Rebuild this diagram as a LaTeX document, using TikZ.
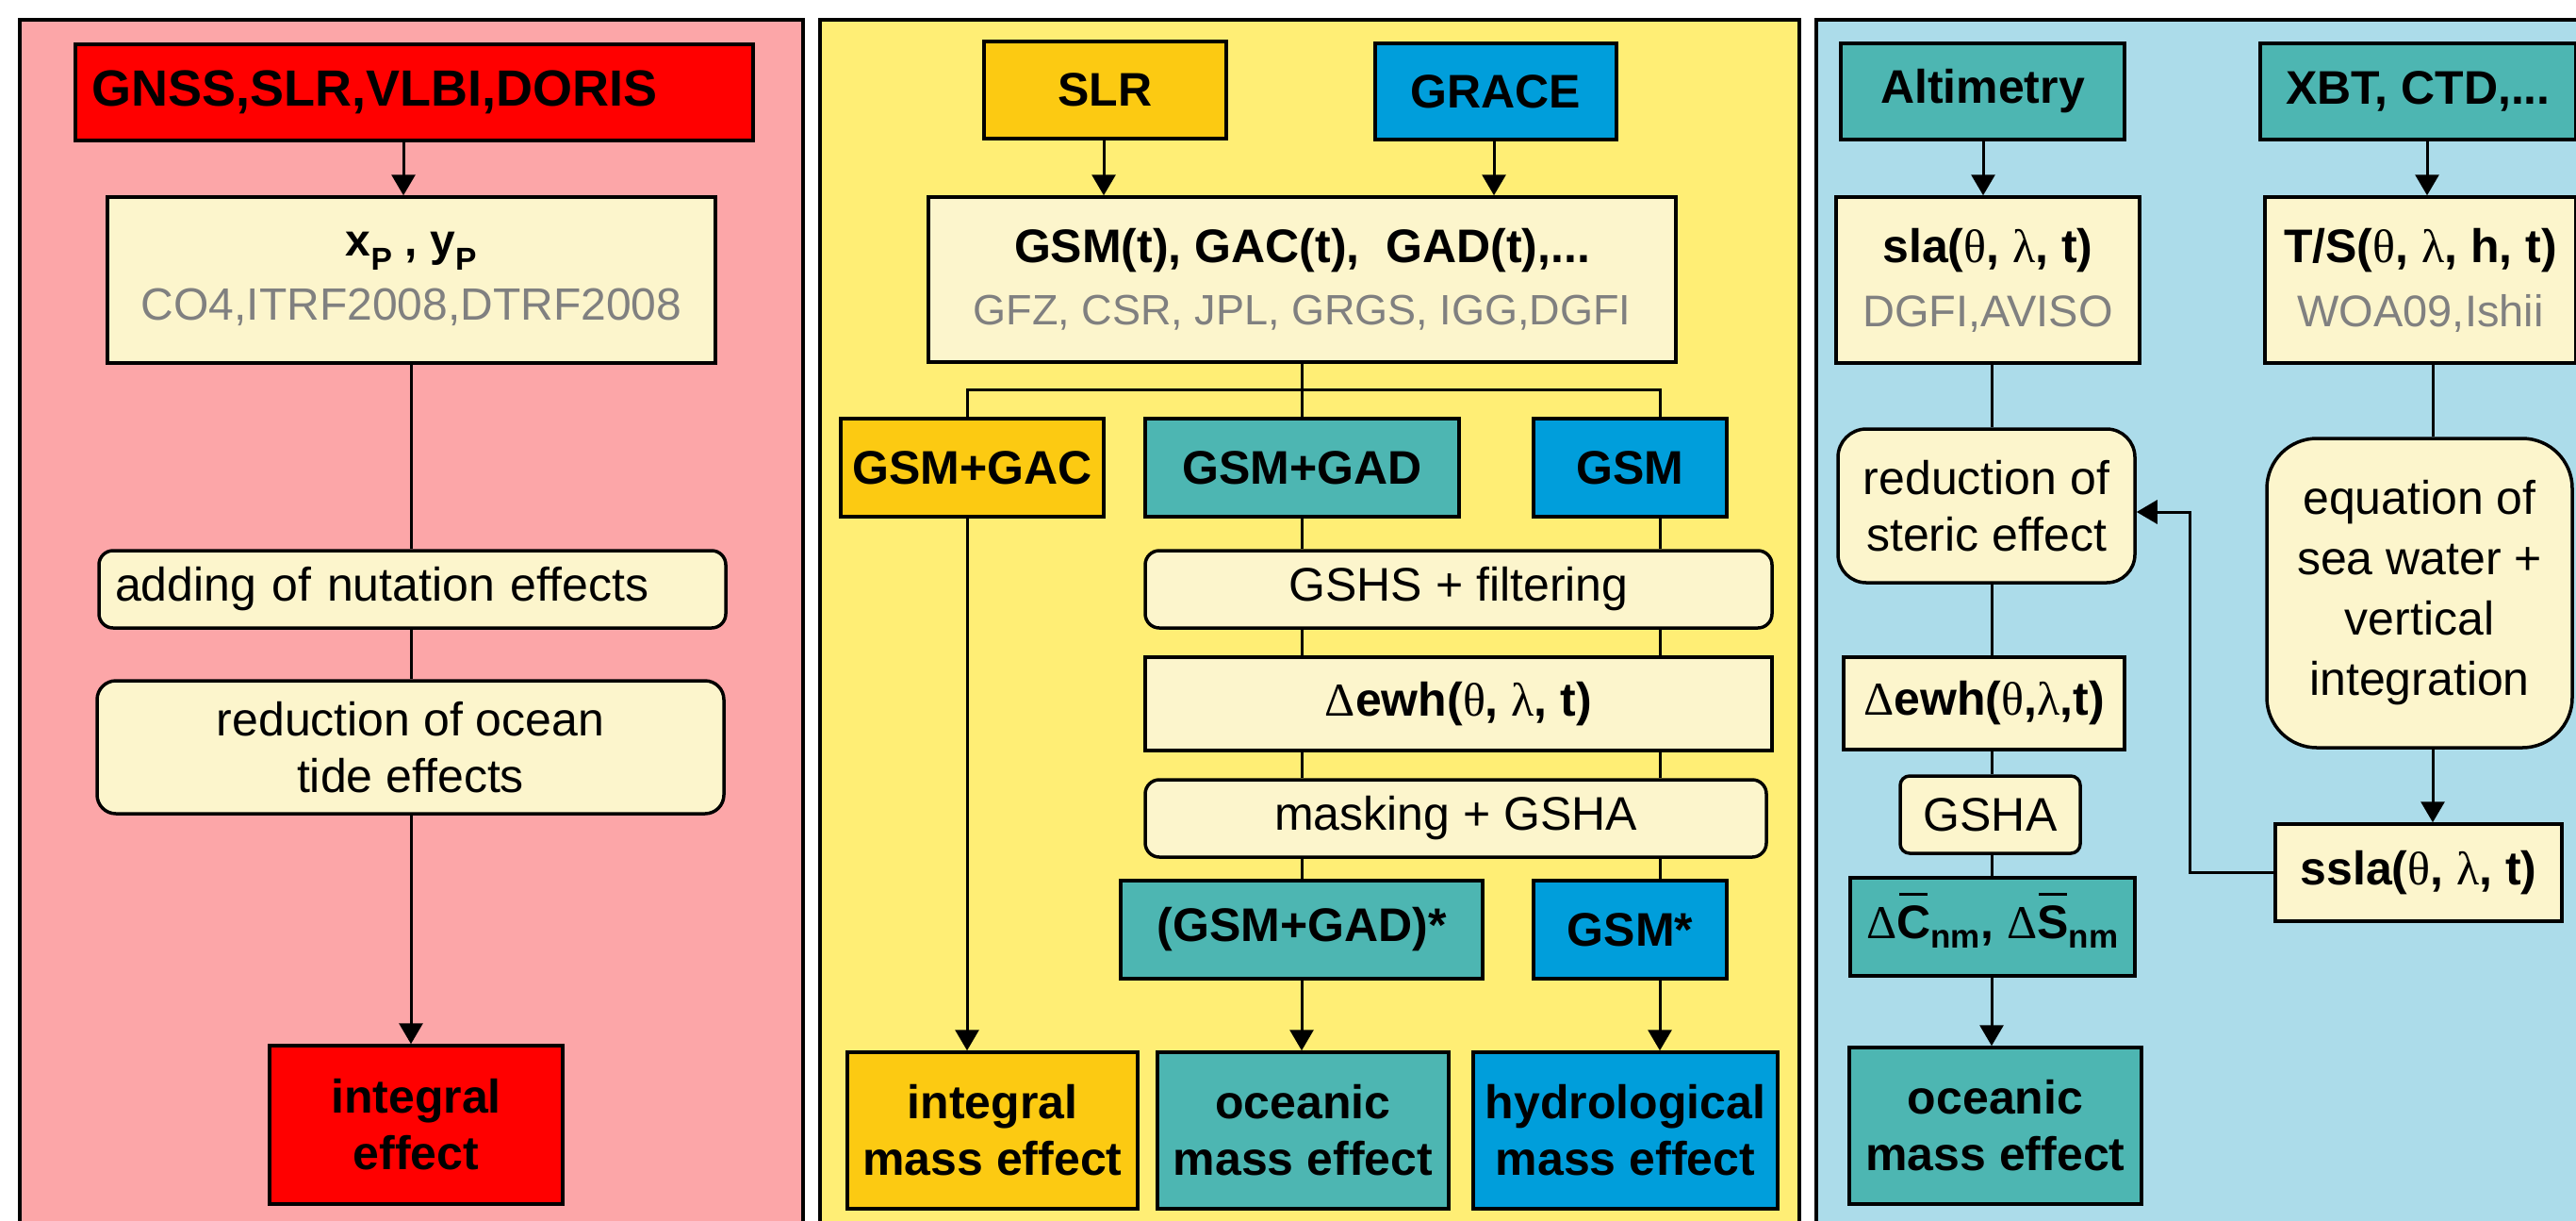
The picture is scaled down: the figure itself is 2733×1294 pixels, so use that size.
\documentclass[tikz,border=0pt]{standalone}
\usepackage{fontspec}
\setmainfont{Liberation Sans}
\newfontfamily\gk{Liberation Serif}
\usetikzlibrary{arrows.meta,calc}
\definecolor{pinkbg}{HTML}{FCA6A8}
\definecolor{yellowbg}{HTML}{FFEE75}
\definecolor{bluebg}{HTML}{ACDCEA}
\definecolor{cream}{HTML}{FCF5CC}
\definecolor{redbox}{HTML}{FF0000}
\definecolor{golden}{HTML}{FCCA12}
\definecolor{bluebox}{HTML}{009EDB}
\definecolor{tealbox}{HTML}{4DB6B2}
\definecolor{graytxt}{HTML}{808080}
\newcommand\sy[1]{{\gk\mdseries #1}}
\newcommand\gry[2][45]{{\mdseries\fontsize{#1}{54}\selectfont\color{graytxt}#2}}
\newcommand\obar[1]{\ooalign{#1\cr\hidewidth\rule[0.9em]{0.6em}{0.07em}\hidewidth\cr}}
\begin{document}
\begin{tikzpicture}[x=1pt,y=-1pt,
  box/.style={draw=black, line width=3.5pt, inner sep=0pt, align=center, font=\fontsize{50}{60}\selectfont},
  bx/.style={box, font=\fontsize{50}{60}\selectfont\bfseries},
  panel/.style={draw=black, line width=4pt},
  ln/.style={line width=3pt},
  arr/.style={ln, -{Triangle[length=22pt,width=25pt]}}]
\useasboundingbox (0,0) rectangle (2733,1294);
\clip (0,0) rectangle (2733,1294);
\fill[white] (0,0) rectangle (2733,1294);
% panels
\draw[panel, fill=pinkbg] (21,21) rectangle (852,1340);
\draw[panel, fill=yellowbg] (870,21) rectangle (1909,1340);
\draw[panel, fill=bluebg] (1927,21) rectangle (2780,1340);

% ---------- panel 1 ----------
\coordinate (c1) at (428,0);
\coordinate (c2) at (436,0);
\node[bx, fill=redbox, minimum width=719pt, minimum height=102pt, text width=685pt, align=left, font=\fontsize{54}{60}\selectfont\bfseries] (gnss) at (439.5,98) {GNSS,SLR,VLBI,DORIS};
\node[box, fill=cream, minimum width=645pt, minimum height=176pt, text depth=8pt] (xp) at (436.5,297) {\bfseries\fontsize{48}{60}\selectfont x\textsubscript{P} , y\textsubscript{P}\\[8pt]\gry[48]{CO4,ITRF2008,DTRF2008}};
\node[box, rounded corners=15pt, fill=cream, minimum width=665pt, minimum height=82pt, text width=631pt, align=left] (add) at (437.5,625) {adding of nutation effects};
\node[box, rounded corners=20pt, fill=cream, minimum width=665pt, minimum height=141pt] (ocean) at (435.5,792.5) {reduction of ocean\\tide effects};
\node[bx, fill=redbox, minimum width=311pt, minimum height=168pt] (integ) at (441.5,1193) {integral\\effect};
\draw[arr] (gnss.south -| c1) -- (xp.north -| c1);
\draw[ln] (xp.south -| c2) -- (add.north -| c2);
\draw[ln] (add.south -| c2) -- (ocean.north -| c2);
\draw[arr] (ocean.south -| c2) -- (integ.north -| c2);

% ---------- panel 2 ----------
\coordinate (cs) at (1171,0);
\coordinate (cg) at (1585,0);
\coordinate (colA) at (1026,0);
\coordinate (colB) at (1381,0);
\coordinate (colC) at (1761,0);
\coordinate (treeY) at (0,413);
\node[bx, fill=golden, minimum width=257pt, minimum height=103pt] (slr) at (1172.5,95.5) {SLR};
\node[bx, fill=bluebox, minimum width=256pt, minimum height=102pt] (grace) at (1587,97) {GRACE};
\node[box, fill=cream, minimum width=793pt, minimum height=175pt] (gsmt) at (1381.5,296.5) {\bfseries GSM(t), GAC(t),\ \ GAD(t),...\\[6pt]\gry{GFZ, CSR, JPL, GRGS, IGG,DGFI}};
\node[bx, fill=golden, minimum width=279pt, minimum height=104pt] (gac) at (1031.5,496) {GSM+GAC};
\node[bx, fill=tealbox, minimum width=333pt, minimum height=104pt] (gad) at (1381.5,496) {GSM+GAD};
\node[bx, fill=bluebox, minimum width=205pt, minimum height=104pt] (gsm) at (1729.5,496) {GSM};
\node[box, rounded corners=15pt, fill=cream, minimum width=665pt, minimum height=82pt] (gshs) at (1547.5,625) {GSHS + filtering};
\node[box, fill=cream, minimum width=665pt, minimum height=99pt] (dewh) at (1547.5,746.5) {\sy{Δ}\textbf{ewh(}\sy{θ}\textbf{, }\sy{λ}\textbf{, t)}};
\node[box, rounded corners=15pt, fill=cream, minimum width=659pt, minimum height=82pt] (mask) at (1544.5,868) {masking + GSHA};
\node[bx, fill=tealbox, minimum width=384pt, minimum height=104pt] (gadstar) at (1381,986) {(GSM+GAD)*};
\node[bx, fill=bluebox, minimum width=205pt, minimum height=104pt] (gsmstar) at (1729.5,986) {GSM*};
\node[bx, fill=golden, minimum width=308pt, minimum height=166pt] (imass) at (1053,1199) {integral\\mass effect};
\node[bx, fill=tealbox, minimum width=309pt, minimum height=166pt] (omass) at (1382.5,1199) {oceanic\\mass effect};
\node[bx, fill=bluebox, minimum width=323pt, minimum height=166pt] (hmass) at (1724.5,1199) {hydrological\\mass effect};
\draw[arr] (slr.south -| cs) -- (gsmt.north -| cs);
\draw[arr] (grace.south -| cg) -- (gsmt.north -| cg);
\draw[ln] (gsmt.south -| colB) -- (gad.north -| colB);
\draw[ln] (gac.north -| colA) -- (colA |- treeY) -- (colC |- treeY) -- (gsm.north -| colC);
\draw[arr] (gac.south -| colA) -- (imass.north -| colA);
\draw[ln] (gad.south -| colB) -- (gshs.north -| colB);
\draw[ln] (gsm.south -| colC) -- (gshs.north -| colC);
\draw[ln] (gshs.south -| colB) -- (dewh.north -| colB);
\draw[ln] (gshs.south -| colC) -- (dewh.north -| colC);
\draw[ln] (dewh.south -| colB) -- (mask.north -| colB);
\draw[ln] (dewh.south -| colC) -- (mask.north -| colC);
\draw[ln] (mask.south -| colB) -- (gadstar.north -| colB);
\draw[ln] (mask.south -| colC) -- (gsmstar.north -| colC);
\draw[arr] (gadstar.south -| colB) -- (omass.north -| colB);
\draw[arr] (gsmstar.south -| colC) -- (hmass.north -| colC);

% ---------- panel 3 ----------
\coordinate (ca) at (2104,0);
\coordinate (cx) at (2575,0);
\coordinate (colD) at (2113,0);
\coordinate (colE) at (2581,0);
\coordinate (fb) at (2323,543);
\node[bx, fill=tealbox, minimum width=301pt, minimum height=102pt] (alt) at (2103.5,97) {Altimetry};
\node[bx, fill=tealbox, minimum width=335pt, minimum height=102pt] (xbt) at (2565.5,97) {XBT, CTD,...};
\node[box, fill=cream, minimum width=322pt, minimum height=176pt, text depth=6pt] (sla) at (2109,297) {\textbf{sla(}\sy{θ}\textbf{, }\sy{λ}\textbf{, t)}\\[8pt]\gry[47]{DGFI,AVISO}};
\node[box, fill=cream, minimum width=330pt, minimum height=176pt, text depth=6pt] (ts) at (2568,297) {\textbf{T/S(}\sy{θ}\textbf{, }\sy{λ}\textbf{, h, t)}\\[8pt]\gry[47]{WOA09,Ishii}};
\node[box, rounded corners=30pt, fill=cream, minimum width=315pt, minimum height=163pt] (red2) at (2107.5,536.5) {reduction of\\steric effect};
\node[box, rounded corners=53pt, fill=cream, minimum width=324pt, minimum height=328pt, font=\fontsize{50}{64}\selectfont] (eq) at (2567,629) {equation of\\sea water +\\vertical\\integration};
\node[box, fill=cream, minimum width=304pt, minimum height=103pt] (ssla) at (2566,925.5) {\textbf{ssla(}\sy{θ}\textbf{, }\sy{λ}\textbf{, t)}};
\node[box, fill=cream, minimum width=298pt, minimum height=98pt] (dewh2) at (2105,746) {\sy{Δ}\textbf{ewh(}\sy{θ}\textbf{,}\sy{λ}\textbf{,t)}};
\node[box, rounded corners=10pt, fill=cream, minimum width=191pt, minimum height=82pt] (gsha) at (2111.5,864) {GSHA};
\node[bx, fill=tealbox, minimum width=302pt, minimum height=104pt] (dc) at (2114,983) {\sy{Δ}\obar{C}\textsubscript{nm}, \sy{Δ}\obar{S}\textsubscript{nm}};
\node[bx, fill=tealbox, minimum width=310pt, minimum height=166pt] (ocean2) at (2117,1194) {oceanic\\mass effect};
\draw[arr] (alt.south -| ca) -- (sla.north -| ca);
\draw[arr] (xbt.south -| cx) -- (ts.north -| cx);
\draw[ln] (sla.south -| colD) -- (red2.north -| colD);
\draw[ln] (ts.south -| colE) -- (eq.north -| colE);
\draw[arr] (eq.south -| colE) -- (ssla.north -| colE);
\draw[arr] (ssla.west) -- (fb |- ssla.west) -- (fb) -- (red2.east |- fb);
\draw[ln] (red2.south -| colD) -- (dewh2.north -| colD);
\draw[ln] (dewh2.south -| colD) -- (gsha.north -| colD);
\draw[ln] (gsha.south -| colD) -- (dc.north -| colD);
\draw[arr] (dc.south -| colD) -- (ocean2.north -| colD);
\end{tikzpicture}
\end{document}
